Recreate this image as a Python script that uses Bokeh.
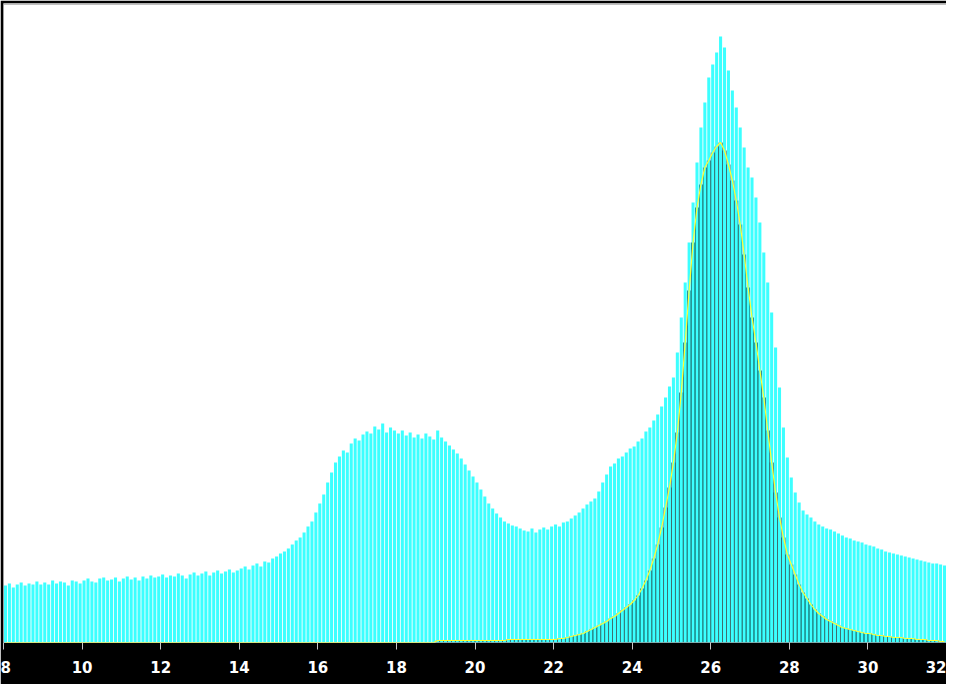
import numpy as np
from bokeh.plotting import figure
from bokeh.models import Range1d, FixedTicker, Span
from bokeh.embed import file_html
from bokeh.resources import INLINE

# Histogram: bins of width 0.1 from 8.0 to 32.0
bin_start = 8.0
bin_width = 0.1

all_counts = [
    57, 59, 55, 58, 60, 57, 59, 58, 61, 58,
    60, 58, 62, 59, 61, 60, 57, 62, 61, 59,
    62, 64, 61, 60, 64, 65, 62, 63, 65, 61,
    64, 66, 63, 65, 62, 66, 64, 67, 65, 66,
    68, 65, 67, 66, 69, 67, 64, 68, 70, 67,
    69, 71, 67, 70, 72, 69, 71, 73, 70, 72,
    74, 76, 73, 77, 79, 76, 81, 80, 84, 86,
    89, 91, 94, 98, 102, 105, 110, 116, 121, 130,
    139, 148, 160, 170, 180, 186, 192, 190, 199, 204,
    202, 208, 211, 209, 216, 213, 219, 210, 215, 212,
    209, 212, 207, 210, 205, 208, 204, 209, 206, 203,
    212, 205, 201, 197, 193, 189, 184, 178, 172, 166,
    160, 153, 146, 139, 134, 129, 125, 121, 119, 117,
    116, 114, 112, 111, 114, 110, 113, 115, 113, 116,
    118, 116, 120, 121, 124, 127, 130, 134, 138, 141,
    144, 151, 160, 168, 176, 179, 184, 186, 190, 194,
    196, 201, 204, 211, 215, 222, 228, 236, 245, 256,
    265, 290, 325, 360, 400, 440, 480, 515, 540, 565,
    578, 590, 606, 595, 572, 552, 535, 515, 495, 475,
    465, 445, 420, 390, 360, 330, 295, 255, 215, 185,
    165, 150, 140, 132, 128, 125, 121, 118, 116, 114,
    113, 111, 109, 107, 105, 104, 102, 101, 100, 98,
    97, 96, 94, 93, 91, 90, 89, 88, 87, 86,
    85, 84, 83, 82, 81, 80, 79, 79, 78, 77,
]

gated_counts = [
    0, 0, 0, 0, 0, 0, 0, 0, 0, 0,
    0, 0, 0, 0, 0, 0, 0, 0, 0, 0,
    0, 0, 0, 0, 0, 0, 0, 0, 0, 0,
    0, 0, 0, 0, 0, 0, 0, 0, 0, 0,
    0, 0, 0, 0, 0, 0, 0, 0, 0, 0,
    0, 0, 0, 0, 0, 0, 0, 0, 0, 0,
    0, 0, 0, 0, 0, 0, 0, 0, 0, 0,
    0, 0, 0, 0, 0, 0, 0, 0, 0, 0,
    0, 0, 0, 0, 0, 0, 0, 0, 0, 0,
    0, 0, 0, 0, 0, 0, 0, 0, 0, 0,
    0, 0, 0, 0, 0, 0, 0, 0, 0, 0,
    2, 2, 2, 2, 2, 2, 2, 2, 2, 2,
    2, 2, 2, 2, 2, 2, 2, 2, 3, 3,
    3, 3, 3, 3, 3, 3, 3, 3, 3, 3,
    3, 4, 4, 5, 6, 7, 8, 9, 11, 13,
    15, 17, 19, 21, 24, 26, 29, 32, 35, 38,
    42, 47, 54, 62, 72, 84, 98, 115, 135, 155,
    180, 210, 250, 300, 352, 400, 435, 458, 475, 482,
    490, 496, 500, 492, 478, 462, 442, 418, 388, 355,
    325, 300, 272, 245, 212, 180, 150, 125, 105, 88,
    78, 68, 58, 50, 44, 38, 33, 29, 26, 23,
    21, 19, 17, 15, 14, 13, 12, 11, 10, 9,
    9, 8, 7, 7, 6, 6, 5, 5, 5, 4,
    4, 4, 3, 3, 3, 2, 2, 2, 1, 1,
]

tick_values = [8, 10, 12, 14, 16, 18, 20, 22, 24, 26, 28, 30, 32]

centers = bin_start + bin_width * (np.arange(len(all_counts)) + 0.5)

p = figure(width=946, height=684, output_backend="svg", toolbar_location=None,
           x_range=Range1d(8.0, 32.0), y_range=Range1d(0, 639),
           y_axis_location=None, min_border_left=3, min_border_top=3,
           min_border_right=0, min_border_bottom=42)
p.border_fill_color = "black"
p.background_fill_color = "white"
p.outline_line_color = None
p.xgrid.visible = False
p.ygrid.visible = False

# gated population drawn as solid dark bars (visible in the gaps)
p.vbar(x=centers, top=gated_counts, bottom=0, width=bin_width,
       fill_color="#002626", line_color=None)
# all events: cyan bars with 1px gaps
p.vbar(x=centers, top=all_counts, bottom=0, width=bin_width * 0.78,
       fill_color="#3CFFFF", line_color=None)
# yellow outline of gated population
p.line(x=centers, y=gated_counts, line_color="#FFFF33", line_width=1.2)

p.add_layout(Span(location=8.0, dimension="height", line_color="#808080", line_width=1))
p.add_layout(Span(location=638.5, dimension="width", line_color="#808080", line_width=1))

ax = p.xaxis[0]
ax.ticker = FixedTicker(ticks=tick_values)
ax.axis_line_color = None
ax.major_tick_line_color = "#C8C8C8"
ax.major_tick_out = 7
ax.major_tick_in = 0
ax.minor_tick_line_color = None
ax.major_label_text_color = "white"
ax.major_label_text_font = "DejaVu Sans"
ax.major_label_text_font_style = "bold"
ax.major_label_text_font_size = "15px"
ax.major_label_standoff = 11

open("out.html", "w").write(file_html(p, INLINE))
